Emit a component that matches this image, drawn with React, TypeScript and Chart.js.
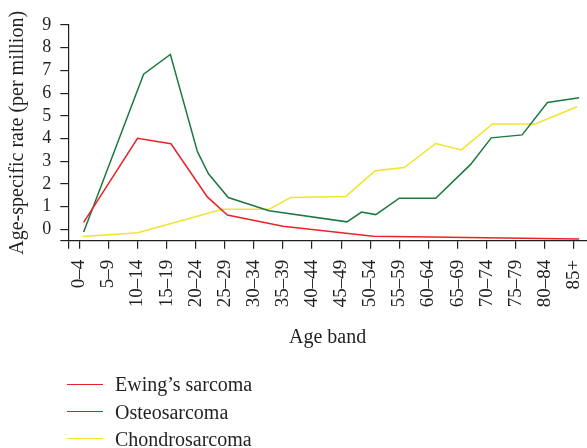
import React, { useEffect, useRef } from 'react';
import { Chart, registerables } from 'chart.js';

Chart.register(...registerables);

// Age bands (x-axis tick labels)
const ageBands = ['0–4', '5–9', '10–14', '15–19', '20–24', '25–29', '30–34', '35–39', '40–44', '45–49', '50–54', '55–59', '60–64', '65–69', '70–74', '75–79', '80–84', '85+'];

// x positions are in age-band index units (0 = "0–4"); y in rate per million
const ewingX = [0.15, 2.0, 3.15, 4.4, 5.09, 7.0, 10.1, 17.18];
const ewingY = [0.31, 4.01, 3.77, 1.43, 0.63, 0.14, -0.3, -0.42];

const osteoX = [0.15, 2.21, 3.13, 4.06, 4.44, 5.12, 6.52, 9.2, 9.7, 10.19, 11.0, 12.25, 13.45, 14.16, 15.22, 16.09, 17.18];
const osteoY = [-0.12, 6.83, 7.7, 3.42, 2.45, 1.4, 0.82, 0.33, 0.76, 0.65, 1.37, 1.37, 2.86, 4.03, 4.16, 5.59, 5.8];

const chondroX = [0.12, 2.01, 4.92, 6.52, 7.26, 9.16, 10.17, 11.17, 12.25, 13.13, 14.2, 15.67, 17.11];
const chondroY = [-0.32, -0.15, 0.88, 0.88, 1.4, 1.45, 2.58, 2.72, 3.78, 3.5, 4.64, 4.64, 5.4];

const seriesNames = ["Ewing’s sarcoma", 'Osteosarcoma', 'Chondrosarcoma'];
const seriesColors = ['#ec2227', '#1c7a3e', '#f2e42c'];

const yTickValues = [0, 1, 2, 3, 4, 5, 6, 7, 8, 9];

const X_MIN = -0.378;
const X_MAX = 17.45;
const Y_MIN = -0.5;
const Y_MAX = 9;

const FONT = "'Liberation Serif', 'Times New Roman', serif";
const INK = '#231f20';

const toPoints = (xs: number[], ys: number[]) => xs.map((x, i) => ({ x, y: ys[i] }));

export default function App() {
  const canvasRef = useRef<HTMLCanvasElement | null>(null);

  useEffect(() => {
    const canvas = canvasRef.current;
    if (!canvas) return;
    const chart = new Chart(canvas, {
      type: 'line',
      data: {
        datasets: [
          { label: seriesNames[0], data: toPoints(ewingX, ewingY), borderColor: seriesColors[0], backgroundColor: seriesColors[0] },
          { label: seriesNames[1], data: toPoints(osteoX, osteoY), borderColor: seriesColors[1], backgroundColor: seriesColors[1] },
          { label: seriesNames[2], data: toPoints(chondroX, chondroY), borderColor: seriesColors[2], backgroundColor: seriesColors[2] },
        ],
      },
      options: {
        responsive: false,
        animation: false,
        layout: { padding: { top: 25, right: 0, bottom: 0, left: 0 } },
        elements: {
          point: { radius: 0, hoverRadius: 0 },
          line: { borderWidth: 1.5, tension: 0 },
        },
        plugins: {
          legend: { display: false },
          tooltip: { enabled: false },
        },
        scales: {
          x: {
            type: 'linear',
            min: X_MIN,
            max: X_MAX,
            afterFit: (scale: any) => {
              scale.height = 448 - 240.7;
              scale.paddingLeft = 0;
              scale.paddingRight = 0;
            },
            afterBuildTicks: (scale: any) => {
              scale.ticks = [{ value: X_MIN }, ...ageBands.map((_, i) => ({ value: i }))];
            },
            ticks: {
              autoSkip: false,
              maxRotation: 90,
              minRotation: 90,
              padding: 11,
              color: INK,
              font: { family: FONT, size: 19 },
              callback: (v: any) => {
                const n = Number(v);
                return Number.isInteger(n) && n >= 0 ? ageBands[n] : '';
              },
            },
            grid: { drawOnChartArea: false, drawTicks: true, tickLength: 8, color: INK, lineWidth: 1.2 },
            border: { display: true, color: INK, width: 1.2 },
            title: {
              display: true,
              text: 'Age band',
              color: INK,
              font: { family: FONT, size: 20 },
              padding: { top: 0, bottom: 98 },
            },
          },
          y: {
            type: 'linear',
            min: Y_MIN,
            max: Y_MAX,
            afterFit: (scale: any) => { scale.width = 68.3; },
            afterBuildTicks: (scale: any) => {
              scale.ticks = [{ value: Y_MIN }, ...yTickValues.map((v) => ({ value: v }))];
            },
            ticks: {
              autoSkip: false,
              padding: 9,
              color: INK,
              font: { family: FONT, size: 18 },
              callback: (v: any) => (Number(v) === Y_MIN ? '' : String(v)),
            },
            grid: { drawOnChartArea: false, drawTicks: true, tickLength: 8, color: INK, lineWidth: 1.2 },
            border: { display: true, color: INK, width: 1.2 },
            title: {
              display: true,
              text: 'Age-specific rate (per million)',
              color: INK,
              font: { family: FONT, size: 20 },
              padding: { top: 6, bottom: 0 },
            },
          },
        },
      },
    });
    return () => chart.destroy();
  }, []);

  const legendRows = [384.3, 411.7, 438.7];

  return (
    <div style={{ position: 'absolute', left: 0, top: 0, width: 587, height: 448, background: '#fff' }}>
      <canvas ref={canvasRef} width={587} height={448} style={{ position: 'absolute', left: 0, top: 0, width: 587, height: 448 }} />
      {seriesNames.map((name, i) => (
        <div key={name} style={{ position: 'absolute', left: 67, top: legendRows[i] - 13, height: 26, display: 'flex', alignItems: 'center' }}>
          <div style={{ width: 36, height: 1.5, background: seriesColors[i] }} />
          <span style={{ marginLeft: 12, fontFamily: FONT, fontSize: 20, color: INK, lineHeight: '26px', whiteSpace: 'nowrap' }}>{name}</span>
        </div>
      ))}
    </div>
  );
}
